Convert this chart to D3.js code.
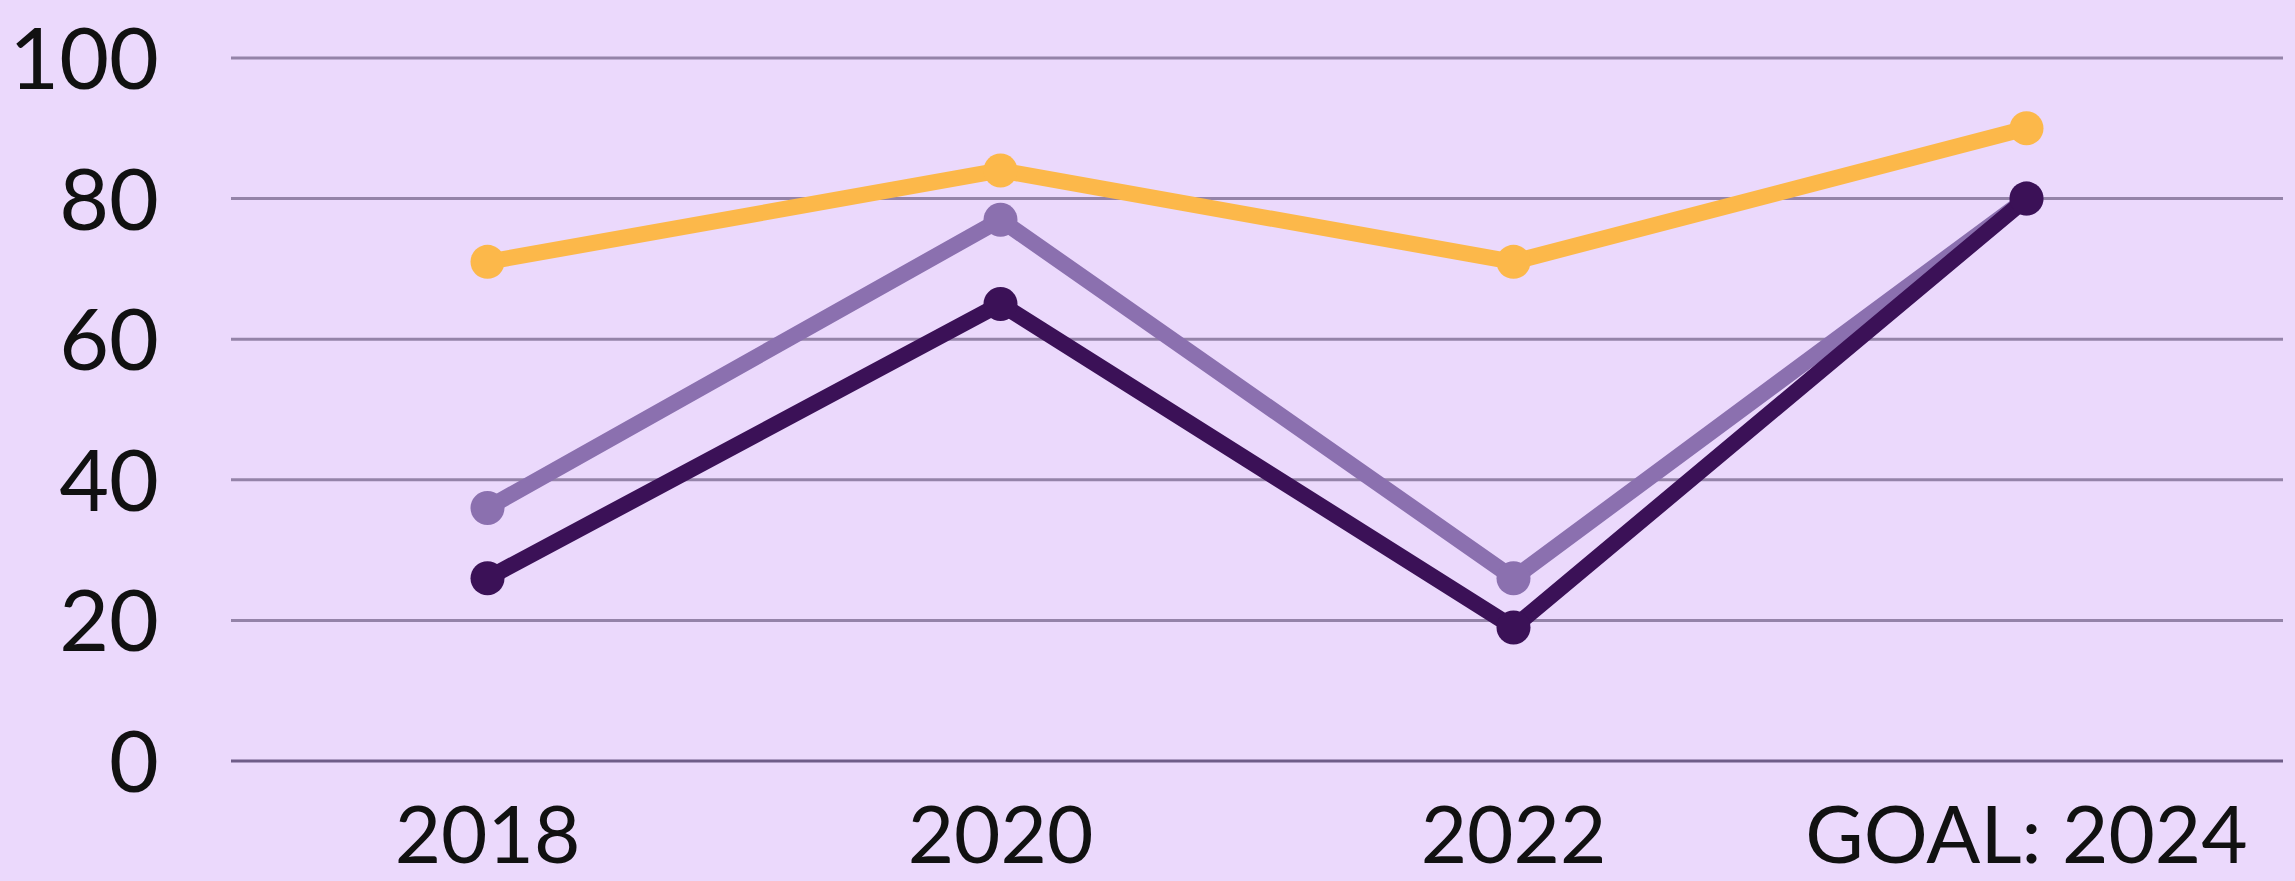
<!DOCTYPE html>
<html>
<head>
<meta charset="utf-8">
<script src="https://cdn.jsdelivr.net/npm/d3@7"></script>
<style>
  body { margin: 0; background: #ebd9fc; }
  svg { display: block; }
</style>
</head>
<body>
<svg id="chart"></svg>
<script>
// Data
const years = ["2018", "2020", "2022", "GOAL: 2024"];
const yellowSeries = [71, 84, 71, 90];
const lightSeries = [36, 77, 26, 80];
const darkSeries = [26, 65, 19, 80];
const yTicks = [0, 20, 40, 60, 80, 100];

const width = 2295,
    height = 881;

const svg = d3.select("#chart")
    .attr("width", width)
    .attr("height", height);

svg.append("rect")
    .attr("width", width)
    .attr("height", height)
    .attr("fill", "#ebd9fc");

const margin = { left: 231, right: 12, top: 58, bottom: 120 };

// Scales
const x = d3.scaleBand()
    .domain(years)
    .range([margin.left, width - margin.right]);

const y = d3.scaleLinear()
    .domain([0, 100])
    .range([height - margin.bottom, margin.top]);

const cx = d => x(d) + x.bandwidth() / 2;

// Gridlines
svg.append("g")
    .selectAll("line")
    .data(yTicks)
    .join("line")
    .attr("x1", margin.left)
    .attr("x2", width - margin.right)
    .attr("y1", d => y(d))
    .attr("y2", d => y(d))
    .attr("stroke", d => d === 0 ? "#6f5d88" : "#9483a8")
    .attr("stroke-width", 3);

// Y axis labels
svg.append("g")
    .selectAll("text")
    .data(yTicks)
    .join("text")
    .attr("x", 159)
    .attr("y", d => y(d))
    .attr("dy", "0.36em")
    .attr("text-anchor", "end")
    .attr("font-family", "Lato, sans-serif")
    .attr("font-size", 86)
    .attr("fill", "#111")
    .text(d => d);

// X axis labels
svg.append("g")
    .selectAll("text")
    .data(years)
    .join("text")
    .attr("x", d => cx(d))
    .attr("y", 863)
    .attr("text-anchor", "middle")
    .attr("font-family", "Lato, sans-serif")
    .attr("font-size", 80)
    .attr("fill", "#111")
    .text(d => d);

// Lines, dark one drawn last
const series = [
    { values: yellowSeries, color: "#fcb84a" },
    { values: lightSeries, color: "#8b70af" },
    { values: darkSeries, color: "#3b1157" }
];

const line = d3.line()
    .x((d, i) => cx(years[i]))
    .y(d => y(d));

series.forEach(s => {
    svg.append("path")
        .datum(s.values)
        .attr("fill", "none")
        .attr("stroke", s.color)
        .attr("stroke-width", 16)
        .attr("stroke-linejoin", "round")
        .attr("d", line);

    svg.append("g")
        .selectAll("circle")
        .data(s.values)
        .join("circle")
        .attr("cx", (d, i) => cx(years[i]))
        .attr("cy", d => y(d))
        .attr("r", 17)
        .attr("fill", s.color);
});
</script>
</body>
</html>
